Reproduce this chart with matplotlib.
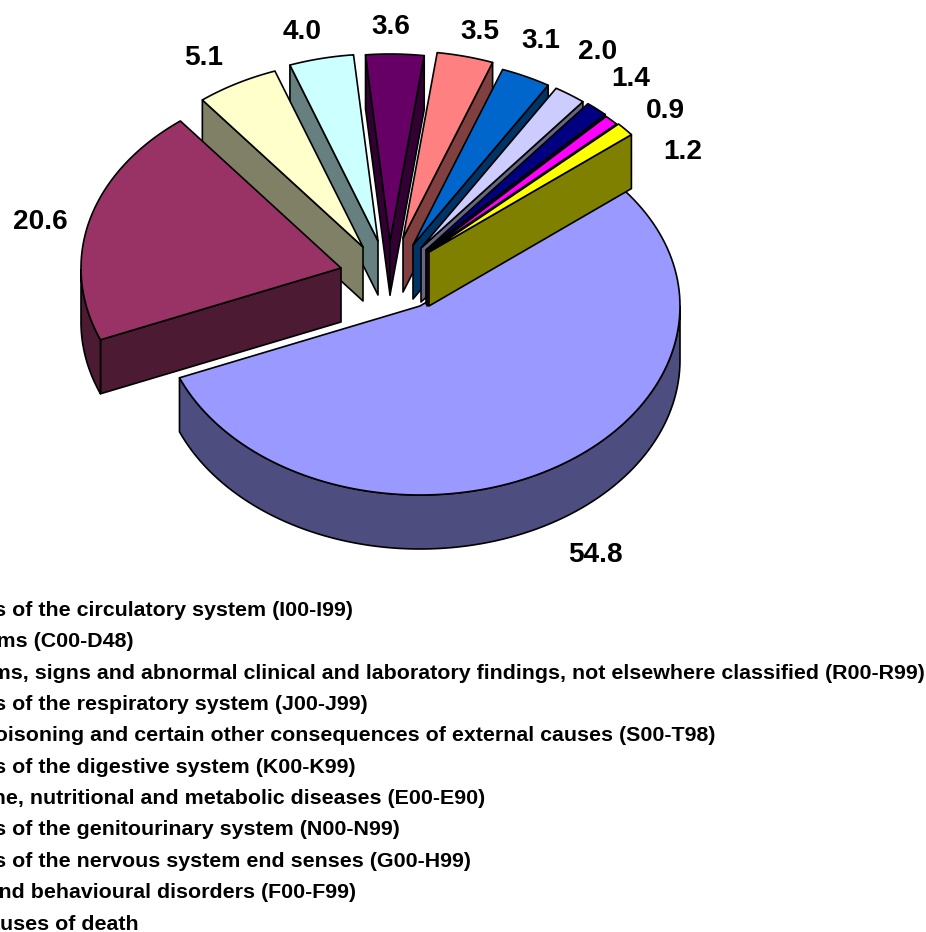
#!/usr/bin/env python3
import numpy as np
import matplotlib
matplotlib.use("Agg")
import matplotlib.pyplot as plt
from matplotlib.colors import to_rgb
from matplotlib.patches import Polygon

plt.rcParams['font.family'] = ['Liberation Sans', 'DejaVu Sans']

causes = [
    "Diseases of the circulatory system (I00-I99)",
    "Neoplasms (C00-D48)",
    "Symptoms, signs and abnormal clinical and laboratory findings, not elsewhere classified (R00-R99)",
    "Diseases of the respiratory system (J00-J99)",
    "Injury, poisoning and certain other consequences of external causes (S00-T98)",
    "Diseases of the digestive system (K00-K99)",
    "Endocrine, nutritional and metabolic diseases (E00-E90)",
    "Diseases of the genitourinary system (N00-N99)",
    "Diseases of the nervous system end senses (G00-H99)",
    "Mental and behavioural disorders (F00-F99)",
    "Other causes of death",
]
values = [54.8, 20.6, 5.1, 4.0, 3.6, 3.5, 3.1, 2.0, 1.4, 0.9, 1.2]
colors = ['#9999FF', '#993366', '#FFFFCC', '#CCFFFF', '#660066', '#FF8080',
          '#0066CC', '#CCCCFF', '#000080', '#FF00FF', '#FFFF00']

# layout in pixels: where each exploded slice has its tip, where the value goes
tips = [(420, 306), (341, 268), (363, 247), (378, 241), (390, 241), (403, 238),
        (413, 245), (421, 248), (426, 250), (427, 252), (429, 252)]
label_pos = [(595, 555), (40, 222), (204, 58), (302, 32), (391, 27), (480, 32),
             (541, 41), (598, 52), (631, 79), (665, 111), (683, 152)]
draw_order = [0, 4, 3, 2, 1, 5, 6, 7, 8, 9, 10]

RX, RY_FRONT, RY_BACK = 260, 189, 187
DEPTH = 54
START = 50.4
LW = 1.2

fig = plt.figure(figsize=(9.26, 9.32), dpi=100)
ax = fig.add_axes([0, 0, 1, 1])
ax.set_xlim(0, 926)
ax.set_ylim(932, 0)
ax.axis('off')


def rim(tip, theta):
    # theta in degrees, clockwise from the top of the pie
    t = np.radians(theta)
    ry = np.where(np.cos(t) < 0, RY_FRONT, RY_BACK)
    return np.column_stack([tip[0] + RX * np.sin(t), tip[1] - ry * np.cos(t)])


def face(pts, color):
    ax.add_patch(Polygon(pts, closed=True, facecolor=color, edgecolor='black',
                         linewidth=LW, joinstyle='round'))


def wall_visible(tip, p, m):
    # the wall shows if the top of the slice is on the far side of the edge
    ex, ey = p[0] - tip[0], p[1] - tip[1]
    return (ex * (m[1] - tip[1]) - ey * (m[0] - tip[0])) * ex < 0


edges = START + np.concatenate([[0], np.cumsum(values)]) * 3.6

for i in draw_order:
    tip = tips[i]
    th1, th2 = edges[i], edges[i + 1]
    thetas = np.linspace(th1, th2, 120)
    arc = rim(tip, thetas)
    mid = rim(tip, np.array([(th1 + th2) / 2]))[0]
    side = tuple(c * 0.5 for c in to_rgb(colors[i]))
    drop = np.array([0, DEPTH])

    for p in (arc[0], arc[-1]):
        if wall_visible(tip, p, mid):
            face([tip, p, p + drop, np.array(tip) + drop], side)

    # outer wall, only the front half of the rim
    front = np.cos(np.radians(thetas)) <= 0
    if front.any():
        a = arc[front]
        face(np.vstack([a, (a + drop)[::-1]]), side)

    face(np.vstack([[tip], arc]), colors[i])

for v, (x, y) in zip(values, label_pos):
    ax.text(x, y, f"{v:.1f}", fontsize=20.2, fontweight='bold',
            ha='center', va='center', color='black')

# the legend runs off the left edge of the picture
for n, name in enumerate(causes):
    ax.text(-87, 610.5 + n * 31.35, name, fontsize=15.4, fontweight='bold',
            ha='left', va='center', color='black')

fig.savefig("out.png", dpi=100)
